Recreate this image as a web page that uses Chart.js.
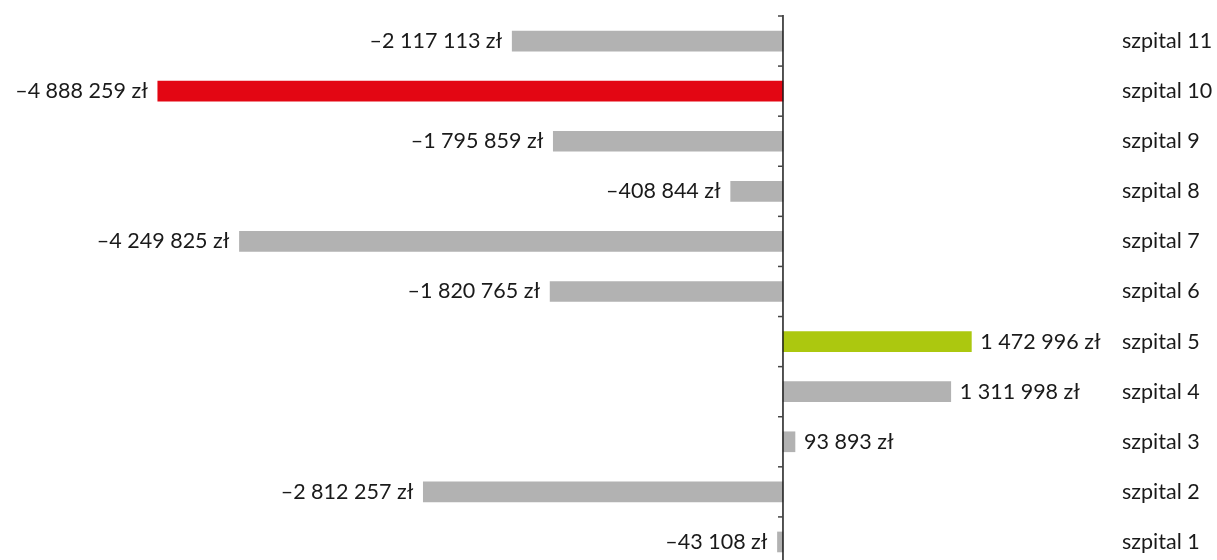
<!DOCTYPE html>
<html>
<head>
<meta charset="utf-8">
<script src="https://cdn.jsdelivr.net/npm/chart.js@4/dist/chart.umd.min.js"></script>
<style>
  html, body { margin: 0; padding: 0; background: #fff; overflow: hidden; }
  canvas { display: block; }
</style>
</head>
<body>
<canvas id="c" width="1217" height="567"></canvas>
<script>
// Financial result per hospital (PLN), listed top to bottom
const categories = ['szpital 11', 'szpital 10', 'szpital 9', 'szpital 8', 'szpital 7', 'szpital 6',
                    'szpital 5', 'szpital 4', 'szpital 3', 'szpital 2', 'szpital 1'];
const results = [-2117113, -4888259, -1795859, -408844, -4249825, -1820765,
                 1472996, 1311998, 93893, -2812257, -43108];
const highlightWorst = 'szpital 10';
const highlightBest = 'szpital 5';

const GREY = '#b2b2b2', RED = '#e30613', GREEN = '#acc80f';
const TEXT = '#1a1a1a';
const FONT = 'Lato, sans-serif';
const FONT_SIZE = 21.5;

const barColors = categories.map(c => c === highlightWorst ? RED : c === highlightBest ? GREEN : GREY);

function formatPLN(v) {
  const s = Math.abs(v).toString().replace(/\B(?=(\d{3})+(?!\d))/g, ' ');
  return (v < 0 ? '\u2013' : '') + s + ' zł';
}

// Zero axis with small ticks between categories, value labels at bar ends,
// and category names in a column on the right
const annotate = {
  id: 'annotate',
  afterDatasetsDraw(chart) {
    const { ctx, chartArea, scales: { x, y } } = chart;
    const x0 = x.getPixelForValue(0);
    ctx.save();
    ctx.strokeStyle = TEXT;
    ctx.lineWidth = 1.5;
    ctx.beginPath();
    ctx.moveTo(x0, chartArea.top - 1);
    ctx.lineTo(x0, chartArea.bottom);
    ctx.stroke();
    ctx.strokeStyle = '#444';
    const step = y.getPixelForValue(1) - y.getPixelForValue(0);
    for (let i = 0; i <= categories.length; i++) {
      const yy = y.getPixelForValue(0) - step / 2 + i * step;
      ctx.beginPath();
      ctx.moveTo(x0 - 5, yy);
      ctx.lineTo(x0, yy);
      ctx.stroke();
    }
    ctx.fillStyle = TEXT;
    ctx.font = FONT_SIZE + 'px ' + FONT;
    ctx.textBaseline = 'middle';
    const meta = chart.getDatasetMeta(0);
    meta.data.forEach((bar, i) => {
      const v = results[i];
      if (v < 0) {
        ctx.textAlign = 'right';
        ctx.fillText(formatPLN(v), bar.x - 10, bar.y);
      } else {
        ctx.textAlign = 'left';
        ctx.fillText(formatPLN(v), bar.x + 9, bar.y);
      }
      ctx.textAlign = 'left';
      ctx.fillText(categories[i], chartArea.right + 12, bar.y);
    });
    ctx.restore();
  }
};

new Chart(document.getElementById('c'), {
  type: 'bar',
  data: {
    labels: categories,
    datasets: [{
      data: results,
      backgroundColor: barColors,
      borderWidth: 0,
      barThickness: 20
    }]
  },
  options: {
    indexAxis: 'y',
    responsive: false,
    animation: false,
    layout: { padding: { top: 16, left: 0, right: 107, bottom: 0 } },
    plugins: { legend: { display: false }, tooltip: { enabled: false } },
    scales: {
      x: { display: false, min: -6122000, max: 2557000 },
      y: { display: false }
    }
  },
  plugins: [annotate]
});
</script>
</body>
</html>
